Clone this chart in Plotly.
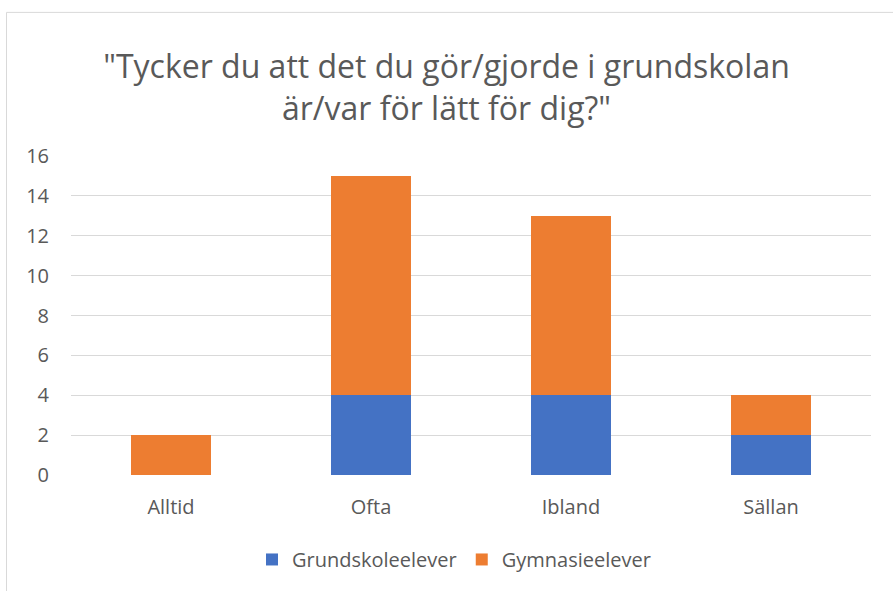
import plotly.graph_objects as go

categories = ["Alltid", "Ofta", "Ibland", "Sällan"]
grundskole = [0, 4, 4, 2]
gymnasie = [2, 11, 9, 2]
series_names = ["Grundskoleelever", "Gymnasieelever"]
y_ticks = [0, 2, 4, 6, 8, 10, 12, 14, 16]
title_text = '"Tycker du att det du gör/gjorde i grundskolan<br>är/var för lätt för dig?"'

FONT = "Open Sans"
GRAY = "#595959"

fig = go.Figure()
fig.add_trace(go.Bar(x=categories, y=grundskole, name=series_names[0],
                     marker=dict(color="#4472C4", line=dict(width=0))))
fig.add_trace(go.Bar(x=categories, y=gymnasie, name=series_names[1],
                     marker=dict(color="#ED7D31", line=dict(width=0))))

W, H = 893, 591
L, R, T, B = 71, 22, 156, 114
pw, ph = W - L - R, H - T - B

def px_x(p):
    return (p - L) / pw

def px_y(p):
    return (H - B - p) / ph

fig.update_layout(
    width=W, height=H,
    margin=dict(l=L, r=R, t=T, b=B, pad=0),
    barmode="stack",
    bargap=0.6,
    plot_bgcolor="white",
    paper_bgcolor="white",
    font=dict(family=FONT, color=GRAY, size=20),
    title=dict(text=title_text, x=0.5, xanchor="center",
               y=1 - 78 / H, yanchor="middle",
               font=dict(family=FONT, size=32, color=GRAY)),
    xaxis=dict(showgrid=False, showline=False, zeroline=False, ticks="",
               ticklabelstandoff=18,
               tickfont=dict(family=FONT, size=20, color=GRAY)),
    yaxis=dict(range=[0, 16], tickvals=y_ticks, showgrid=True,
               gridcolor="#d9d9d9", gridwidth=1, zeroline=False,
               showline=False, ticks="", ticklabelstandoff=21,
               tickfont=dict(family=FONT, size=20, color=GRAY)),
    legend=dict(orientation="h", x=px_x(454), xanchor="center",
                y=px_y(562), yanchor="middle", traceorder="normal",
                font=dict(family=FONT, size=20, color=GRAY)),
    shapes=[dict(type="rect", xref="paper", yref="paper",
                 x0=px_x(6.5), x1=px_x(900), y0=px_y(600), y1=px_y(11.5),
                 line=dict(color="#d9d9d9", width=1), layer="below")],
)

fig.write_html("out.html", config={"displayModeBar": False},
               post_script="document.body.style.margin='0';document.body.style.overflow='hidden';")
